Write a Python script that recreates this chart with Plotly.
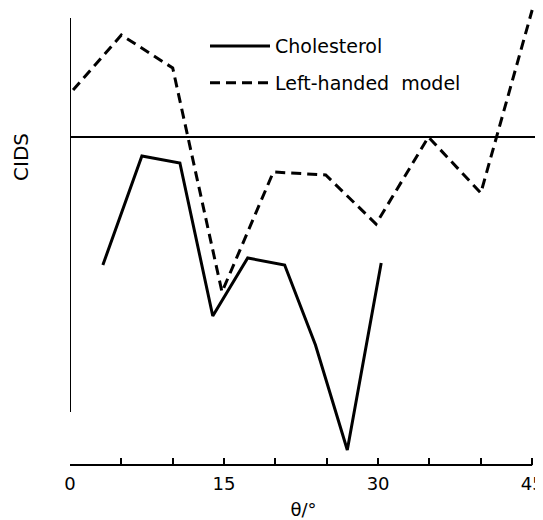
import plotly.graph_objects as go

# Data (CIDS in arbitrary units)
theta_chol = [3.2, 7.0, 10.7, 13.9, 17.3, 20.9, 23.9, 27.0, 30.3]
cids_chol = [-12.8, -1.9, -2.6, -17.9, -12.1, -12.8, -20.8, -31.3, -12.6]

theta_left = [0.3, 5, 10, 14.8, 19.8, 24.9, 29.8, 34.9, 40, 45]
cids_left = [4.7, 10.2, 6.9, -15.5, -3.5, -3.8, -8.7, 0.0, -5.6, 12.7]

tick_vals = [0, 15, 30, 45]
tick_text = ["0", "15", "30", "45"]

FONT = "DejaVu Sans"

fig = go.Figure()
fig.add_trace(go.Scatter(
    x=theta_chol, y=cids_chol, mode="lines", name="Cholesterol",
    line=dict(color="black", width=3), legendgroup="a"))
fig.add_trace(go.Scatter(
    x=theta_left, y=cids_left, mode="lines", name="Left-handed  model",
    line=dict(color="black", width=3, dash="10px,6px"), legendgroup="b"))

fig.update_layout(
    width=535, height=512,
    margin=dict(l=62, r=6, t=0, b=55),
    paper_bgcolor="white", plot_bgcolor="white",
    font=dict(family=FONT, size=18, color="black"),
    showlegend=True,
    legend=dict(x=(197 - 62) / 467, y=0.958, xanchor="left", yanchor="top",
                bgcolor="rgba(0,0,0,0)", traceorder="grouped",
                itemwidth=60,
                tracegroupgap=9, font=dict(size=19)),
    xaxis=dict(range=[0, 45.47], tickvals=tick_vals, ticktext=tick_text,
               ticks="inside", ticklen=7, tickwidth=2, tickcolor="black",
               ticklabelstandoff=6, ticklabeloverflow="allow",
               minor=dict(dtick=5, tick0=0, ticks="inside", ticklen=7,
                          tickwidth=2, tickcolor="black"),
               showline=False, showgrid=False, zeroline=False,
               title=dict(text="θ/°", standoff=11, font=dict(size=18))),
    yaxis=dict(range=[-32.8, 12.9], showticklabels=False, ticks="",
               showgrid=False, showline=False,
               zeroline=True, zerolinecolor="black", zerolinewidth=2),
    shapes=[
        dict(type="line", xref="x", yref="y", x0=0, x1=0, y0=-27.5, y1=11.9,
             line=dict(color="black", width=2)),
        dict(type="line", xref="x", yref="paper", x0=0, x1=45, y0=0, y1=0,
             line=dict(color="black", width=2)),
    ],
    annotations=[
        dict(text="CIDS", xref="paper", yref="paper", x=-0.105, y=0.674,
             xanchor="center", yanchor="middle",
             showarrow=False, textangle=-90, font=dict(size=20)),
    ],
)

fig.write_html("out.html")
